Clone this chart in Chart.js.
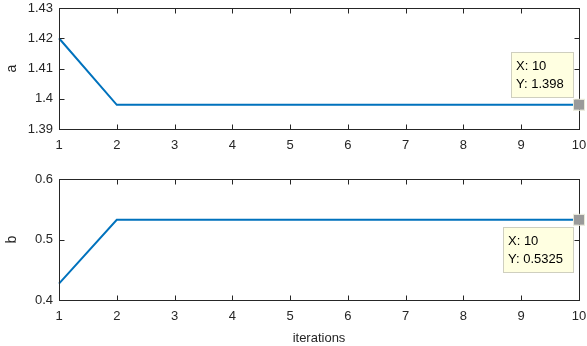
<!DOCTYPE html>
<html><head><meta charset="utf-8">
<script src="https://cdn.jsdelivr.net/npm/chart.js@4"></script>
<style>
body{margin:0;background:#fff;width:587px;height:346px;overflow:hidden;position:relative}
.w{position:absolute;left:0;width:587px}
</style></head><body>
<div class="w" style="top:0;height:162px"><canvas id="c1"></canvas></div>
<div class="w" style="top:162px;height:184px"><canvas id="c2"></canvas></div>
<script>
const iterations = [1,2,3,4,5,6,7,8,9,10];
const xTicks = [1,2,3,4,5,6,7,8,9,10];
const aValues = [1.42,1.398,1.398,1.398,1.398,1.398,1.398,1.398,1.398,1.398];
const bValues = [0.427,0.5325,0.5325,0.5325,0.5325,0.5325,0.5325,0.5325,0.5325,0.5325];
const aTicks = [1.39,1.40,1.41,1.42,1.43];
const aTickLabels = ['1.39','1.4','1.41','1.42','1.43'];
const bTicks = [0.4,0.5,0.6];
const bTickLabels = ['0.4','0.5','0.6'];
const aTip = ['X: 10','Y: 1.398'];
const bTip = ['X: 10','Y: 0.5325'];

const FONT = "'Liberation Sans', Arial, Helvetica, sans-serif";
const AX = '#262626';
Chart.defaults.font.family = FONT;
Chart.defaults.color = AX;

const boxPlugin = {
  id:'box',
  afterDatasetsDraw(chart, args, opts){
    const {ctx, chartArea:ca, scales} = chart;
    const l=Math.round(ca.left)+0.5, r=Math.round(ca.right)+0.5, t=Math.round(ca.top)+0.5, b=Math.round(ca.bottom)+0.5;
    ctx.save();
    ctx.strokeStyle = AX; ctx.lineWidth = 1;
    ctx.strokeRect(l, t, r-l, b-t);
    ctx.beginPath();
    const L = 5;
    scales.x.ticks.forEach(tk=>{
      const x = Math.round(scales.x.getPixelForValue(tk.value))+0.5;
      ctx.moveTo(x,b); ctx.lineTo(x,b-L);
      ctx.moveTo(x,t); ctx.lineTo(x,t+L);
    });
    scales.y.ticks.forEach(tk=>{
      const y = Math.round(scales.y.getPixelForValue(tk.value))+0.5;
      ctx.moveTo(l,y); ctx.lineTo(l+L,y);
      ctx.moveTo(r,y); ctx.lineTo(r-L,y);
    });
    ctx.stroke();
    // datatip
    const ds = chart.data.datasets[0].data;
    const last = ds[ds.length-1];
    const px = scales.x.getPixelForValue(last.x);
    const py = scales.y.getPixelForValue(last.y);
    const tip = opts.tip;
    const bx = Math.round(px + opts.dx), by = Math.round(py + opts.dy);
    ctx.fillStyle = '#ffffe1';
    ctx.strokeStyle = '#cfcfbf';
    ctx.fillRect(bx, by, opts.w, 45);
    ctx.strokeRect(bx+0.5, by+0.5, opts.w, 45);
    ctx.fillStyle = '#000';
    ctx.font = '13px ' + FONT;
    ctx.textBaseline = 'middle';
    ctx.fillText(tip[0], bx+5, by+14);
    ctx.fillText(tip[1], bx+5, by+32);
    // marker
    ctx.fillStyle = '#9a9a9a';
    ctx.strokeStyle = '#e8e8d8';
    ctx.fillRect(px-5, py-5, 10, 10);
    ctx.strokeRect(px-5.5, py-5.5, 11, 11);
    ctx.restore();
  }
};

function noPad(s){ s.paddingTop = 0; s.paddingBottom = 0; s.paddingLeft = 0; s.paddingRight = 0; }

function makeChart(id, vals, yTicks, yLabels, yTitle, pad, xH, withTitle, tip){
  return new Chart(document.getElementById(id), {
    type:'line',
    data:{datasets:[{
      data: iterations.map((x,i)=>({x, y: vals[i]})),
      borderColor:'#0072BD', borderWidth:2, pointRadius:0, tension:0, fill:false, clip:false
    }]},
    options:{
      responsive:true, maintainAspectRatio:false, animation:false,
      layout:{padding:{top:pad, right:8, left:0, bottom:0}},
      plugins:{legend:{display:false}, tooltip:{enabled:false}, box:tip},
      scales:{
        x:{type:'linear', min:1, max:10,
          grid:{display:false, drawTicks:false}, border:{display:false},
          afterBuildTicks(s){ s.ticks = xTicks.map(v=>({value:v})); },
          ticks:{font:{size:13}, color:AX, padding:9, maxRotation:0, callback:(v)=>String(v)},
          title:{display:withTitle, text:'iterations', font:{size:13}, color:AX, padding:{top:0,bottom:0}},
          afterFit(s){ s.height = xH; noPad(s); }
        },
        y:{type:'linear', min:yTicks[0], max:yTicks[yTicks.length-1],
          grid:{display:false, drawTicks:false}, border:{display:false},
          afterBuildTicks(s){ s.ticks = yTicks.map(v=>({value:v})); },
          ticks:{font:{size:13}, color:AX, padding:6, callback:(v)=>{const i=yTicks.findIndex(t=>Math.abs(t-v)<1e-9); return i>=0?yLabels[i]:'';}},
          title:{display:true, text:yTitle, font:{size:14}, color:AX, padding:{top:4,bottom:0}},
          afterFit(s){ s.width = 59; noPad(s); }
        }
      }
    },
    plugins:[boxPlugin]
  });
}
makeChart('c1', aValues, aTicks, aTickLabels, 'a', 8, 33, false, {tip:aTip, dx:-68, dy:-53, w:62});
makeChart('c2', bValues, bTicks, bTickLabels, 'b', 17, 46, true, {tip:bTip, dx:-76, dy:7, w:70});
</script>
</body></html>
